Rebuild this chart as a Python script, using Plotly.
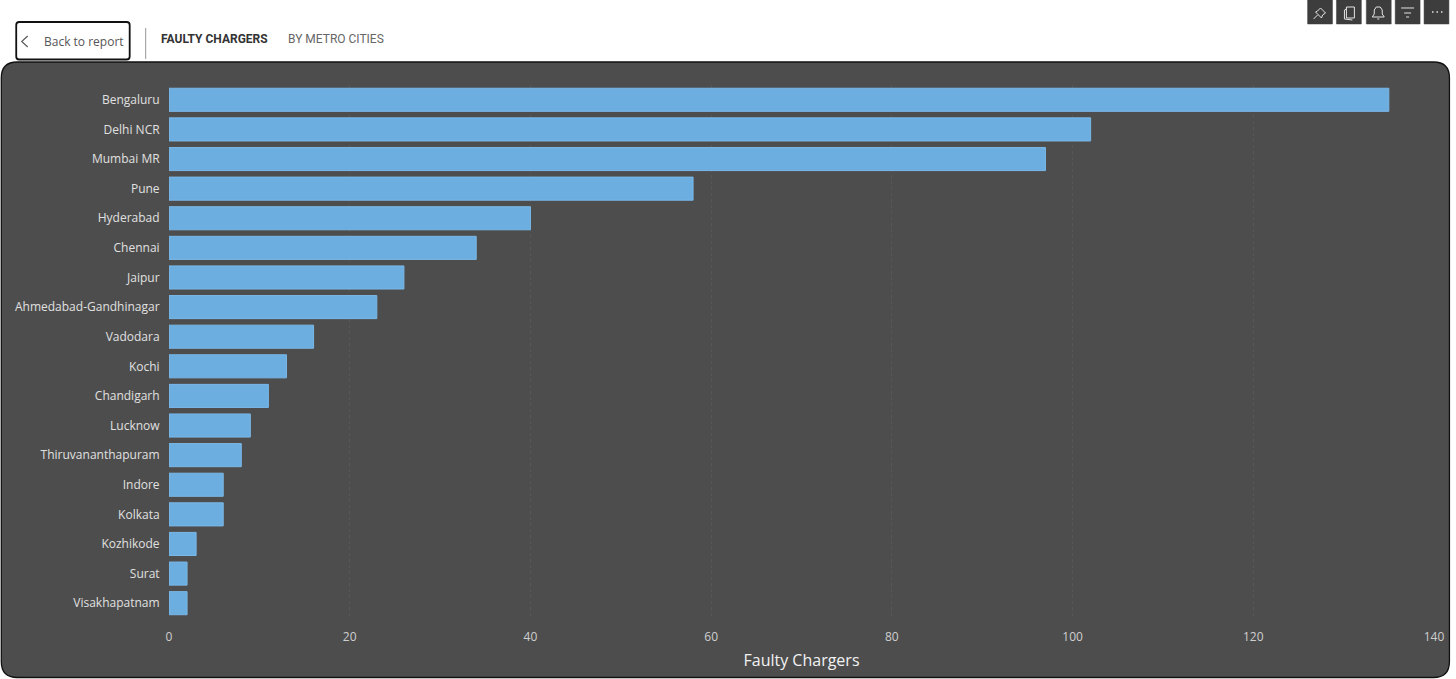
import plotly.graph_objects as go

cities = ["Bengaluru", "Delhi NCR", "Mumbai MR", "Pune", "Hyderabad", "Chennai", "Jaipur",
          "Ahmedabad-Gandhinagar", "Vadodara", "Kochi", "Chandigarh", "Lucknow",
          "Thiruvananthapuram", "Indore", "Kolkata", "Kozhikode", "Surat", "Visakhapatnam"]
faulty_chargers = [135, 102, 97, 58, 40, 34, 26, 23, 16, 13, 11, 9, 8, 6, 6, 3, 2, 2]
x_ticks = [0, 20, 40, 60, 80, 100, 120, 140]
axis_title = "Faulty Chargers"
nav_items = ["FAULTY CHARGERS", "BY METRO CITIES"]
back_label = "Back to report"

W, H = 1456, 679
L, R, T, B = 169, 1440, 85, 618
FONT = "Open Sans"


def fx(x):
    return (x - L) / (R - L)


def fy(y):
    return (B - y) / (B - T)


def P(x, y):
    return f"{fx(x):.5f},{fy(y):.5f}"


def rounded(x0, y0, x1, y1, r):
    rx = r / (R - L)
    ry = r / (B - T)
    return (f"M{fx(x0)+rx:.5f},{fy(y0):.5f} L{fx(x1)-rx:.5f},{fy(y0):.5f} "
            f"Q{fx(x1):.5f},{fy(y0):.5f} {fx(x1):.5f},{fy(y0)-ry:.5f} "
            f"L{fx(x1):.5f},{fy(y1)+ry:.5f} Q{fx(x1):.5f},{fy(y1):.5f} {fx(x1)-rx:.5f},{fy(y1):.5f} "
            f"L{fx(x0)+rx:.5f},{fy(y1):.5f} Q{fx(x0):.5f},{fy(y1):.5f} {fx(x0):.5f},{fy(y1)+ry:.5f} "
            f"L{fx(x0):.5f},{fy(y0)-ry:.5f} Q{fx(x0):.5f},{fy(y0):.5f} {fx(x0)+rx:.5f},{fy(y0):.5f} Z")


def shape(path, fill=None, line="#000000", width=1.0, layer="below"):
    return dict(type="path", xref="paper", yref="paper", path=path, layer=layer,
                fillcolor=fill if fill else "rgba(0,0,0,0)",
                line=dict(color=line, width=width))


def poly(points, close=False):
    s = "M" + " L".join(P(x, y) for x, y in points)
    return s + (" Z" if close else "")


shapes = [
    shape(rounded(0.5, 62, 1455.5, 677.5, 16), fill="#4d4d4d", line="#111111", width=1.3),
    shape(rounded(15.5, 22, 129.5, 59.5, 3), fill="#ffffff", line="#111111", width=1.8),
    shape(poly([(145.5, 28), (145.5, 59)]), line="#a8a8a8", width=1.2),
    shape(poly([(27, 36), (21, 41.5), (27, 47)]), line="#555555", width=1.1),
]

ICON = "#e4e4e4"
for bx in [1313, 1342, 1372, 1401, 1430]:
    shapes.append(shape(poly([(bx, 0), (bx + 25, 0), (bx + 25, 24), (bx, 24)], True),
                        fill="#3d3d3d", line="#3d3d3d", width=0.5))
shapes += [
    shape(poly([(1326, 8), (1331, 13), (1328, 15), (1327, 18), (1321, 12), (1323, 11)], True), line=ICON, width=1),
    shape(poly([(1323, 15), (1319, 19)]), line=ICON, width=1),
    shape(poly([(1352, 7), (1360, 7), (1360, 18), (1352, 18)], True), line=ICON, width=1),
    shape(poly([(1352, 9), (1350, 10), (1350, 19), (1358, 20)]), line=ICON, width=1),
    shape(poly([(1378, 17), (1380, 14), (1380, 10), (1382, 7), (1386, 7), (1388, 10), (1388, 14), (1390, 17)], True),
          line=ICON, width=1),
    shape(poly([(1383, 19), (1385, 19)]), line=ICON, width=1),
    shape(poly([(1407, 8), (1420, 8)]), line=ICON, width=1),
    shape(poly([(1410, 13), (1417, 13)]), line=ICON, width=1),
    shape(poly([(1412, 17), (1415, 17)]), line=ICON, width=1),
]
for dx in [1438, 1442.5, 1447]:
    shapes.append(shape(poly([(dx, 12), (dx + 1.5, 12)]), line=ICON, width=1.5))

annotations = [
    dict(text=back_label, x=fx(84), y=fy(41.5), font=dict(size=12, color="#555555", family=FONT)),
    dict(text=f"<b>{nav_items[0]}</b>", x=fx(215), y=fy(39.5), font=dict(size=12, color="#333333", family="Roboto")),
    dict(text=nav_items[1], x=fx(337), y=fy(39.5), font=dict(size=12, color="#666666", family="Roboto")),
]
for a in annotations:
    a.update(xref="paper", yref="paper", showarrow=False, xanchor="center", yanchor="middle")

fig = go.Figure(go.Bar(
    y=cities, x=faulty_chargers, orientation="h",
    marker=dict(color="#6daee0", line=dict(color="#7ab8e8", width=1)),
))
fig.update_layout(
    width=W, height=H, autosize=False,
    margin=dict(l=L, r=W - R, t=T, b=H - B, pad=0),
    paper_bgcolor="#ffffff", plot_bgcolor="rgba(0,0,0,0)",
    bargap=0.22, showlegend=False,
    shapes=shapes, annotations=annotations,
    font=dict(family=FONT, color="#e0e0e0", size=12),
    xaxis=dict(range=[0, 140], tickvals=x_ticks, showgrid=True, griddash="dot", gridwidth=1,
               gridcolor="#575757", zeroline=False, showline=False, ticks="outside", ticklen=8,
               tickcolor="rgba(0,0,0,0)",
               tickfont=dict(size=12, color="#cfcfcf", family=FONT),
               title=dict(text=axis_title, standoff=10, font=dict(size=16, color="#f2f2f2", family=FONT))),
    yaxis=dict(categoryorder="array", categoryarray=cities, autorange="reversed", showgrid=False,
               zeroline=False, showline=False, ticks="outside", ticklen=6, tickcolor="rgba(0,0,0,0)",
               tickfont=dict(size=12, color="#e0e0e0", family=FONT)),
)

fig.write_html("out.html", config=dict(displayModeBar=False),
               post_script="document.body.style.margin='0';document.documentElement.style.overflow='hidden';"
                           "Plotly.relayout('{plot_id}',{width:1456,height:679});")
